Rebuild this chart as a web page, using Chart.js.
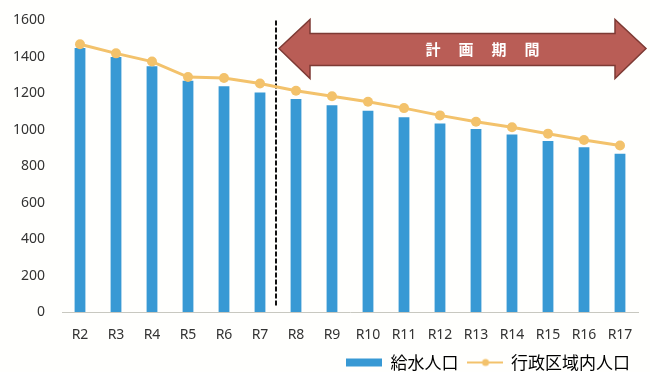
<!DOCTYPE html>
<html lang="ja">
<head>
<meta charset="utf-8">
<script src="https://cdn.jsdelivr.net/npm/chart.js@4/dist/chart.umd.min.js"></script>
<style>
  html, body { margin: 0; padding: 0; background: #fffffd; }
  #wrap { width: 650px; height: 372px; }
</style>
</head>
<body>
<div id="wrap"><canvas id="chart"></canvas></div>
<script>
const YEARS = ["R2", "R3", "R4", "R5", "R6", "R7", "R8", "R9", "R10", "R11", "R12", "R13", "R14", "R15", "R16", "R17"];
const SUPPLY_POP = [1450, 1400, 1350, 1270, 1240, 1205, 1170, 1135, 1105, 1070, 1035, 1005, 975, 940, 905, 870];
const ADMIN_POP = [1470, 1420, 1375, 1290, 1285, 1255, 1215, 1185, 1155, 1120, 1080, 1045, 1015, 980, 945, 915];
const Y_TICKS = [0, 200, 400, 600, 800, 1000, 1200, 1400, 1600];
const PLAN_START = "R8";
const PLAN_LABEL = ["計", "画", "期", "間"];

const BAR_COLOR = "#3899d4";
const LINE_COLOR = "#f3c26b";
const ARROW_FILL = "#b95d56";
const ARROW_EDGE = "#7d3a34";

function legendSwatch(kind) {
  const c = document.createElement("canvas");
  c.width = 36;
  c.height = 10;
  const g = c.getContext("2d");
  if (kind === "bar") {
    g.fillStyle = BAR_COLOR;
    g.fillRect(0, 1, 36, 8);
  } else {
    g.strokeStyle = LINE_COLOR;
    g.lineWidth = 2;
    g.beginPath();
    g.moveTo(0, 5);
    g.lineTo(36, 5);
    g.stroke();
    g.fillStyle = LINE_COLOR;
    g.beginPath();
    g.arc(19, 5, 3.5, 0, Math.PI * 2);
    g.fill();
  }
  return c;
}

// dashed divider + "plan period" double arrow
const planPeriod = {
  id: "planPeriod",
  beforeDatasetsDraw(chart) {
    const { ctx, chartArea, scales } = chart;
    const i = YEARS.indexOf(PLAN_START);
    const xDiv = (scales.x.getPixelForValue(i - 1) + scales.x.getPixelForValue(i)) / 2 - 2;
    ctx.save();
    ctx.strokeStyle = "#111";
    ctx.lineWidth = 2;
    ctx.setLineDash([5, 2]);
    ctx.beginPath();
    ctx.moveTo(xDiv, chartArea.top);
    ctx.lineTo(xDiv, chartArea.bottom - 5);
    ctx.stroke();
    ctx.restore();
  },
  afterDraw(chart) {
    const { ctx, chartArea, scales } = chart;
    const i = YEARS.indexOf(PLAN_START);
    const xDiv = (scales.x.getPixelForValue(i - 1) + scales.x.getPixelForValue(i)) / 2;
    const left = xDiv + 1;
    const right = chartArea.right + 8;
    const top = chartArea.top;
    const headLen = 31;
    const midY = top + 28;
    const shaftTop = top + 13, shaftBot = top + 45;
    const headTop = top - 1, headBot = top + 58;
    ctx.save();
    ctx.beginPath();
    ctx.moveTo(left, midY);
    ctx.lineTo(left + headLen, headTop);
    ctx.lineTo(left + headLen, shaftTop);
    ctx.lineTo(right - headLen, shaftTop);
    ctx.lineTo(right - headLen, headTop);
    ctx.lineTo(right, midY);
    ctx.lineTo(right - headLen, headBot);
    ctx.lineTo(right - headLen, shaftBot);
    ctx.lineTo(left + headLen, shaftBot);
    ctx.lineTo(left + headLen, headBot);
    ctx.closePath();
    ctx.fillStyle = ARROW_FILL;
    ctx.fill();
    ctx.strokeStyle = ARROW_EDGE;
    ctx.lineWidth = 1.5;
    ctx.stroke();
    ctx.fillStyle = "#fff";
    ctx.font = "bold 15px 'Noto Sans CJK JP'";
    ctx.textAlign = "center";
    ctx.textBaseline = "middle";
    const cx = (left + right) / 2 + 20;
    PLAN_LABEL.forEach((ch, k) => {
      ctx.fillText(ch, cx + (k - 1.5) * 33, midY + 1);
    });
    ctx.restore();
  },
};

new Chart(document.getElementById("chart"), {
  data: {
    labels: YEARS,
    datasets: [
      {
        type: "line",
        label: "行政区域内人口",
        data: ADMIN_POP,
        borderColor: LINE_COLOR,
        backgroundColor: LINE_COLOR,
        borderWidth: 3,
        pointRadius: 5,
        pointBorderWidth: 0,
        pointBackgroundColor: LINE_COLOR,
        order: 0,
      },
      {
        type: "bar",
        label: "給水人口",
        data: SUPPLY_POP,
        backgroundColor: BAR_COLOR,
        barPercentage: 0.3,
        categoryPercentage: 1,
        order: 1,
      },
    ],
  },
  options: {
    responsive: true,
    maintainAspectRatio: false,
    animation: false,
    layout: { padding: { top: 20.5, right: 12, left: 0, bottom: -9 } },
    scales: {
      x: {
        afterFit: (axis) => { axis.height = 33.5; },
        grid: { display: false, drawTicks: false },
        border: { display: true, color: "#c8c8c0", width: 1, dash: [2, 2] },
        ticks: { color: "#333", font: { family: "'Noto Sans'", size: 14 }, padding: 14 },
      },
      y: {
        min: 0,
        max: 1600,
        afterBuildTicks: (axis) => { axis.ticks = Y_TICKS.map((v) => ({ value: v })); },
        afterFit: (axis) => { axis.width = 62; },
        grid: { display: true, drawOnChartArea: false, drawTicks: true, tickLength: 14, color: "rgba(0,0,0,0)", tickColor: "rgba(0,0,0,0)" },
        border: { display: false },
        ticks: { color: "#333", font: { family: "'Noto Sans'", size: 14 }, padding: 3, callback: (v) => String(v) },
      },
    },
    plugins: {
      tooltip: { enabled: false },
      legend: {
        position: "bottom",
        align: "end",
        labels: {
          color: "#222",
          font: { family: "'Noto Sans CJK JP'", size: 17 },
          usePointStyle: true,
          pointStyleWidth: 36,
          boxHeight: 10,
          padding: 8,
          generateLabels: () => [
            { text: "給水人口", pointStyle: legendSwatch("bar"), fillStyle: BAR_COLOR, strokeStyle: BAR_COLOR, lineWidth: 0, datasetIndex: 1 },
            { text: "行政区域内人口", pointStyle: legendSwatch("line"), fillStyle: LINE_COLOR, strokeStyle: LINE_COLOR, lineWidth: 0, datasetIndex: 0 },
          ],
        },
      },
    },
  },
  plugins: [planPeriod],
});
</script>
</body>
</html>
